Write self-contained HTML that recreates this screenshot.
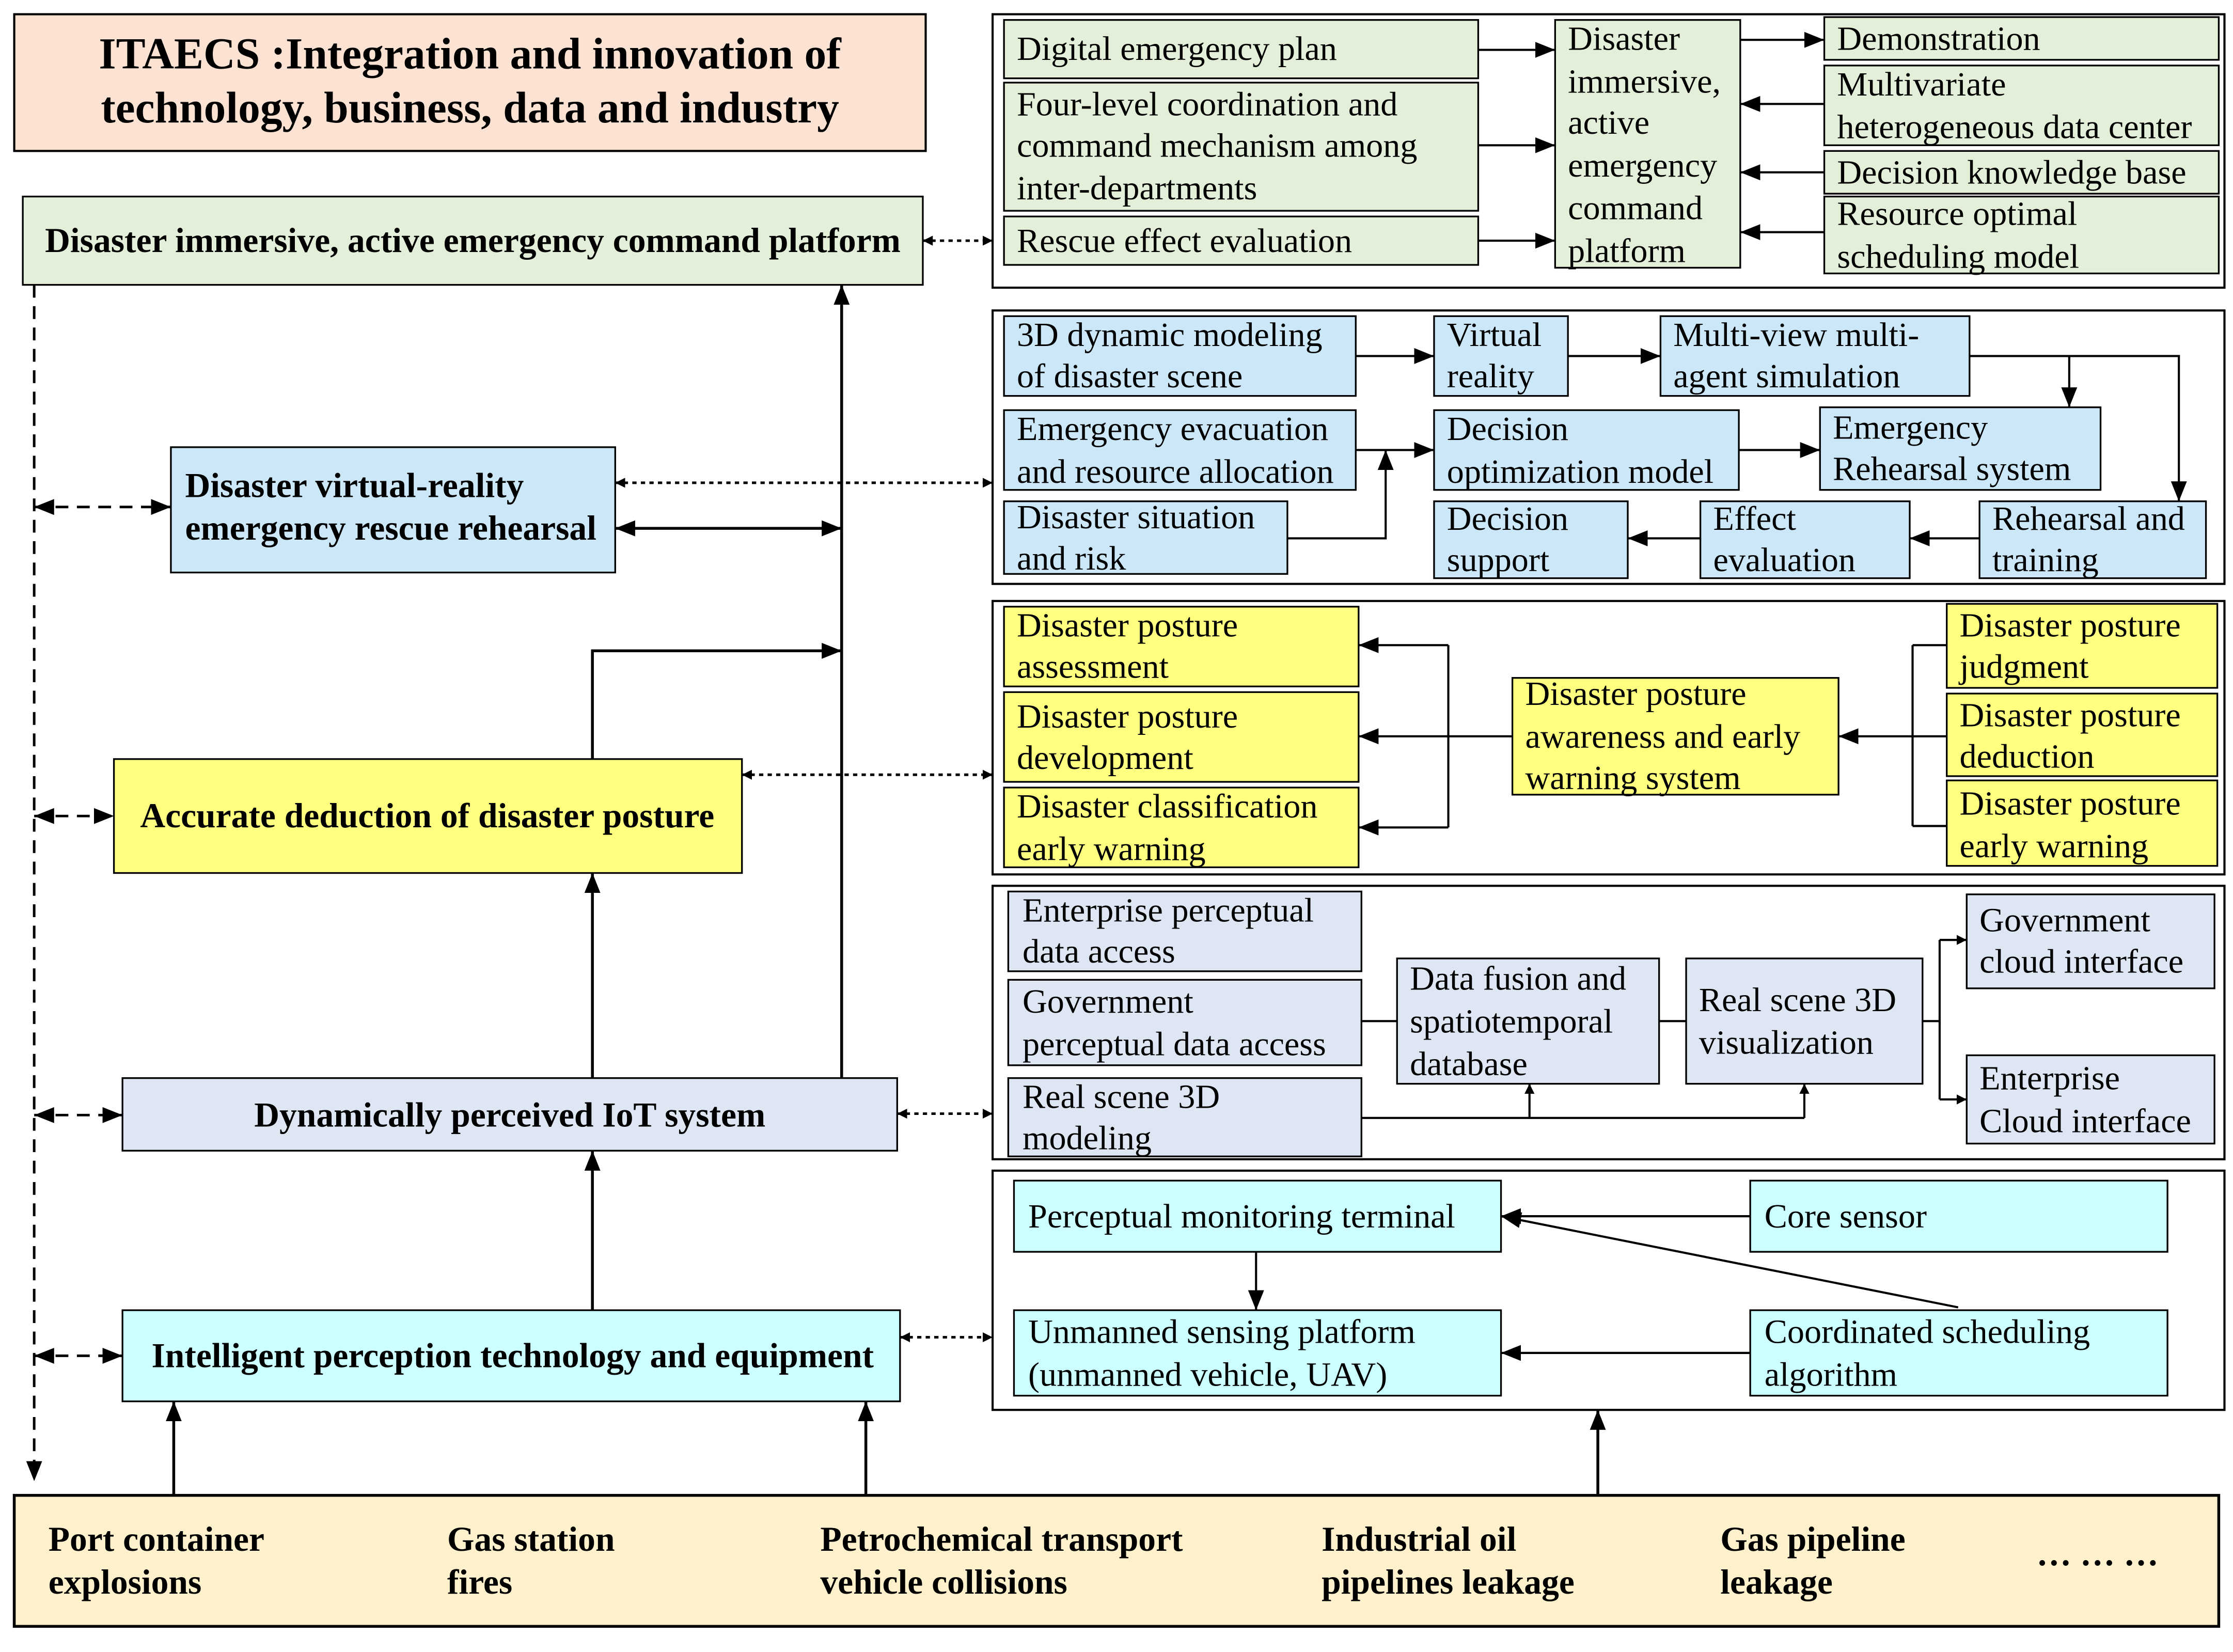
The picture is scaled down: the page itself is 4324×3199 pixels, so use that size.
<!DOCTYPE html>
<html><head><meta charset="utf-8"><style>
html,body{margin:0;padding:0;background:#fff;}
svg{display:block;}
text{font-family:"Liberation Serif",serif;font-size:24px;fill:#000;}
.b{font-weight:bold;font-size:24.5px;}
</style></head><body>
<svg width="4324" height="3199" viewBox="0 0 1568 1160" preserveAspectRatio="none" xmlns="http://www.w3.org/2000/svg">
<defs>
<marker id="a" viewBox="0 0 10 10" refX="10" refY="5" markerWidth="7" markerHeight="7" orient="auto-start-reverse" markerUnits="userSpaceOnUse"><path d="M0,0 L10,5 L0,10 z" fill="#000"/></marker>
<marker id="A" viewBox="0 0 10 10" refX="10" refY="5" markerWidth="14" markerHeight="14" orient="auto-start-reverse" markerUnits="userSpaceOnUse"><path d="M0,1 L10,5 L0,9 z" fill="#000"/></marker>
</defs>
<rect width="1568" height="1160" fill="#fff"/>

<!-- Title -->
<rect x="10" y="10" width="640" height="96" fill="#fbe2d2" stroke="#000" stroke-width="1.5"/>
<text class="b" x="330" y="48" text-anchor="middle" style="font-size:31px">ITAECS :Integration and innovation of</text>
<text class="b" x="330" y="86" text-anchor="middle" style="font-size:31px">technology, business, data and industry</text>

<!-- Left boxes -->
<rect x="16" y="138" width="632" height="62" fill="#e3efd9" stroke="#000" stroke-width="1.2"/>
<text class="b" x="332" y="177" text-anchor="middle">Disaster immersive, active emergency command platform</text>
<rect x="120" y="314" width="312" height="88" fill="#cce8f8" stroke="#000" stroke-width="1.2"/>
<text class="b" x="130" y="349">Disaster virtual-reality</text>
<text class="b" x="130" y="379">emergency rescue rehearsal</text>
<rect x="80" y="533" width="441" height="80" fill="#ffff80" stroke="#000" stroke-width="1.2"/>
<text class="b" x="300" y="581" text-anchor="middle">Accurate deduction of disaster posture</text>
<rect x="86" y="757" width="544" height="51" fill="#dde6f2" stroke="#000" stroke-width="1.2"/>
<text class="b" x="358" y="791" text-anchor="middle">Dynamically perceived  IoT system</text>
<rect x="86" y="920" width="546" height="64" fill="#ccffff" stroke="#000" stroke-width="1.2"/>
<text class="b" x="360" y="960" text-anchor="middle">Intelligent perception technology and equipment</text>

<!-- Bottom -->
<rect x="10" y="1050" width="1548" height="92" fill="#fff1cc" stroke="#000" stroke-width="2"/>
<text class="b" x="34" y="1089">Port container</text><text class="b" x="34" y="1119">explosions</text>
<text class="b" x="314" y="1089">Gas station</text><text class="b" x="314" y="1119">fires</text>
<text class="b" x="576" y="1089">Petrochemical transport</text><text class="b" x="576" y="1119">vehicle collisions</text>
<text class="b" x="928" y="1089">Industrial oil</text><text class="b" x="928" y="1119">pipelines leakage</text>
<text class="b" x="1208" y="1089">Gas pipeline</text><text class="b" x="1208" y="1119">leakage</text>
<text class="b" x="1430" y="1099">… … …</text>

<!-- Right panels frames -->
<g fill="none" stroke="#000" stroke-width="1.5">
<rect x="697" y="10" width="865" height="192"/>
<rect x="697" y="218" width="865" height="192"/>
<rect x="697" y="422" width="865" height="192"/>
<rect x="697" y="622" width="865" height="192"/>
<rect x="697" y="822" width="865" height="168"/>
</g>

<!-- Panel 1 -->
<g stroke="#000" stroke-width="1.2" fill="#e3efd9">
<rect x="705" y="14" width="333" height="41"/>
<rect x="705" y="58" width="333" height="90"/>
<rect x="705" y="152" width="333" height="34"/>
<rect x="1092" y="14" width="130" height="174"/>
<rect x="1281" y="12" width="277" height="30"/>
<rect x="1281" y="46" width="277" height="56"/>
<rect x="1281" y="106" width="277" height="30"/>
<rect x="1281" y="138" width="277" height="54"/>
</g>
<text x="714" y="42">Digital emergency plan</text>
<text x="714" y="81">Four-level coordination and</text>
<text x="714" y="110">command mechanism among</text>
<text x="714" y="140">inter-departments</text>
<text x="714" y="177">Rescue effect evaluation</text>
<text x="1101" y="35">Disaster</text><text x="1101" y="65">immersive,</text><text x="1101" y="94">active</text><text x="1101" y="124">emergency</text><text x="1101" y="154">command</text><text x="1101" y="184">platform</text>
<text x="1290" y="35">Demonstration</text>
<text x="1290" y="67">Multivariate</text><text x="1290" y="97">heterogeneous data center</text>
<text x="1290" y="129">Decision knowledge base</text>
<text x="1290" y="158">Resource optimal</text><text x="1290" y="188">scheduling model</text>
<g stroke="#000" stroke-width="1.5" marker-end="url(#A)">
<line x1="1038" y1="35" x2="1092" y2="35"/>
<line x1="1038" y1="102" x2="1092" y2="102"/>
<line x1="1038" y1="169" x2="1092" y2="169"/>
<line x1="1222" y1="28" x2="1281" y2="28"/>
<line x1="1281" y1="73" x2="1222" y2="73"/>
<line x1="1281" y1="121" x2="1222" y2="121"/>
<line x1="1281" y1="163" x2="1222" y2="163"/>
</g>

<!-- Panel 2 -->
<g stroke="#000" stroke-width="1.2" fill="#cce8f8">
<rect x="705" y="222" width="247" height="56"/>
<rect x="1007" y="222" width="94" height="56"/>
<rect x="1166" y="222" width="217" height="56"/>
<rect x="705" y="288" width="247" height="56"/>
<rect x="1007" y="288" width="214" height="56"/>
<rect x="1278" y="286" width="197" height="58"/>
<rect x="705" y="352" width="199" height="51"/>
<rect x="1007" y="352" width="136" height="54"/>
<rect x="1194" y="352" width="147" height="54"/>
<rect x="1390" y="352" width="159" height="54"/>
</g>
<text x="714" y="243">3D dynamic modeling</text><text x="714" y="272">of disaster scene</text>
<text x="1016" y="243">Virtual</text><text x="1016" y="272">reality</text>
<text x="1175" y="243">Multi-view multi-</text><text x="1175" y="272">agent simulation</text>
<text x="714" y="309">Emergency evacuation</text><text x="714" y="339">and resource allocation</text>
<text x="1016" y="309">Decision</text><text x="1016" y="339">optimization model</text>
<text x="1287" y="308">Emergency</text><text x="1287" y="337">Rehearsal system</text>
<text x="714" y="371">Disaster situation</text><text x="714" y="400">and risk</text>
<text x="1016" y="372">Decision</text><text x="1016" y="401">support</text>
<text x="1203" y="372">Effect</text><text x="1203" y="401">evaluation</text>
<text x="1399" y="372">Rehearsal and</text><text x="1399" y="401">training</text>
<g stroke="#000" stroke-width="1.5" fill="none" marker-end="url(#A)">
<line x1="952" y1="250" x2="1007" y2="250"/>
<line x1="1101" y1="250" x2="1166" y2="250"/>
<polyline points="1383,250 1530,250 1530,352"/>
<line x1="1453" y1="250" x2="1453" y2="286"/>
<line x1="952" y1="316" x2="1007" y2="316"/>
<line x1="1221" y1="316" x2="1278" y2="316"/>
<polyline points="904,378 973,378 973,316"/>
<line x1="1390" y1="378" x2="1341" y2="378"/>
<line x1="1194" y1="378" x2="1143" y2="378"/>
</g>

<!-- Panel 3 -->
<g stroke="#000" stroke-width="1.2" fill="#ffff80">
<rect x="705" y="426" width="249" height="56"/>
<rect x="705" y="486" width="249" height="63"/>
<rect x="705" y="553" width="249" height="56"/>
<rect x="1062" y="476" width="229" height="82"/>
<rect x="1367" y="424" width="190" height="59"/>
<rect x="1367" y="487" width="190" height="58"/>
<rect x="1367" y="548" width="190" height="60"/>
</g>
<text x="714" y="447">Disaster posture</text><text x="714" y="476">assessment</text>
<text x="714" y="511">Disaster posture</text><text x="714" y="540">development</text>
<text x="714" y="574">Disaster classification</text><text x="714" y="604">early warning</text>
<text x="1071" y="495">Disaster posture</text><text x="1071" y="525">awareness and early</text><text x="1071" y="554">warning system</text>
<text x="1376" y="447">Disaster posture</text><text x="1376" y="476">judgment</text>
<text x="1376" y="510">Disaster posture</text><text x="1376" y="539">deduction</text>
<text x="1376" y="572">Disaster posture</text><text x="1376" y="602">early warning</text>
<g stroke="#000" stroke-width="1.5" fill="none">
<line x1="1062" y1="517" x2="1017" y2="517"/>
<line x1="1017" y1="453" x2="1017" y2="581"/>
<line x1="1343" y1="453" x2="1343" y2="580"/>
<line x1="1343" y1="453" x2="1367" y2="453"/>
<line x1="1343" y1="517" x2="1367" y2="517"/>
<line x1="1343" y1="580" x2="1367" y2="580"/>
</g>
<g stroke="#000" stroke-width="1.5" marker-end="url(#A)">
<line x1="1017" y1="453" x2="954" y2="453"/>
<line x1="1017" y1="517" x2="954" y2="517"/>
<line x1="1017" y1="581" x2="954" y2="581"/>
<line x1="1343" y1="517" x2="1291" y2="517"/>
</g>

<!-- Panel 4 -->
<g stroke="#000" stroke-width="1.2" fill="#dde6f2">
<rect x="708" y="626" width="248" height="56"/>
<rect x="708" y="688" width="248" height="60"/>
<rect x="708" y="757" width="248" height="55"/>
<rect x="981" y="673" width="184" height="88"/>
<rect x="1184" y="673" width="166" height="88"/>
<rect x="1381" y="628" width="174" height="66"/>
<rect x="1381" y="741" width="174" height="62"/>
</g>
<text x="718" y="647">Enterprise perceptual</text><text x="718" y="676">data access</text>
<text x="718" y="711">Government</text><text x="718" y="741">perceptual data access</text>
<text x="718" y="778">Real scene 3D</text><text x="718" y="807">modeling</text>
<text x="990" y="695">Data fusion and</text><text x="990" y="725">spatiotemporal</text><text x="990" y="755">database</text>
<text x="1193" y="710">Real scene 3D</text><text x="1193" y="740">visualization</text>
<text x="1390" y="654">Government</text><text x="1390" y="683">cloud interface</text>
<text x="1390" y="765">Enterprise</text><text x="1390" y="795">Cloud interface</text>
<g stroke="#000" stroke-width="1.5" fill="none">
<line x1="956" y1="717" x2="981" y2="717"/>
<line x1="1165" y1="717" x2="1184" y2="717"/>
<line x1="1350" y1="717" x2="1362" y2="717"/>
<line x1="1362" y1="660" x2="1362" y2="772"/>
<line x1="956" y1="785" x2="1267" y2="785"/>
</g>
<g stroke="#000" stroke-width="1.5" marker-end="url(#a)">
<line x1="1362" y1="660" x2="1381" y2="660"/>
<line x1="1362" y1="772" x2="1381" y2="772"/>
<line x1="1074" y1="785" x2="1074" y2="761"/>
<line x1="1267" y1="785" x2="1267" y2="761"/>
</g>

<!-- Panel 5 -->
<g stroke="#000" stroke-width="1.2" fill="#ccffff">
<rect x="712" y="829" width="342" height="50"/>
<rect x="1229" y="829" width="293" height="50"/>
<rect x="712" y="920" width="342" height="60"/>
<rect x="1229" y="920" width="293" height="60"/>
</g>
<text x="722" y="862">Perceptual monitoring terminal</text>
<text x="1239" y="862">Core sensor</text>
<text x="722" y="943">Unmanned sensing platform</text><text x="722" y="973">(unmanned vehicle, UAV)</text>
<text x="1239" y="943">Coordinated scheduling</text><text x="1239" y="973">algorithm</text>
<g stroke="#000" stroke-width="1.5" marker-end="url(#A)">
<line x1="1229" y1="854" x2="1054" y2="854"/>
<line x1="1229" y1="950" x2="1054" y2="950"/>
<line x1="1375" y1="918" x2="1054" y2="854"/>
<line x1="882" y1="879" x2="882" y2="920"/>
</g>

<!-- Left connectors -->
<g stroke="#000" stroke-width="1.8" stroke-dasharray="9,6" fill="none">
<line x1="24" y1="200" x2="24" y2="1040" marker-end="url(#A)"/>
<line x1="24" y1="356" x2="120" y2="356" marker-start="url(#A)" marker-end="url(#A)"/>
<line x1="24" y1="573" x2="80" y2="573" marker-start="url(#A)" marker-end="url(#A)"/>
<line x1="24" y1="783" x2="86" y2="783" marker-start="url(#A)" marker-end="url(#A)"/>
<line x1="24" y1="952" x2="86" y2="952" marker-start="url(#A)" marker-end="url(#A)"/>
</g>
<g stroke="#000" stroke-width="1.8" stroke-dasharray="3,3" marker-start="url(#a)" marker-end="url(#a)">
<line x1="648" y1="169" x2="697" y2="169"/>
<line x1="432" y1="339" x2="697" y2="339"/>
<line x1="521" y1="544" x2="697" y2="544"/>
<line x1="630" y1="782" x2="697" y2="782"/>
<line x1="632" y1="939" x2="697" y2="939"/>
</g>
<g stroke="#000" stroke-width="2" fill="none" marker-end="url(#A)">
<line x1="591" y1="757" x2="591" y2="200"/>
<line x1="432" y1="371" x2="591" y2="371" marker-start="url(#A)"/>
<polyline points="416,533 416,457 591,457"/>
<line x1="416" y1="757" x2="416" y2="613"/>
<line x1="416" y1="920" x2="416" y2="808"/>
<line x1="122" y1="1050" x2="122" y2="984"/>
<line x1="608" y1="1050" x2="608" y2="984"/>
<line x1="1122" y1="1050" x2="1122" y2="990"/>
</g>
</svg>
</body></html>
